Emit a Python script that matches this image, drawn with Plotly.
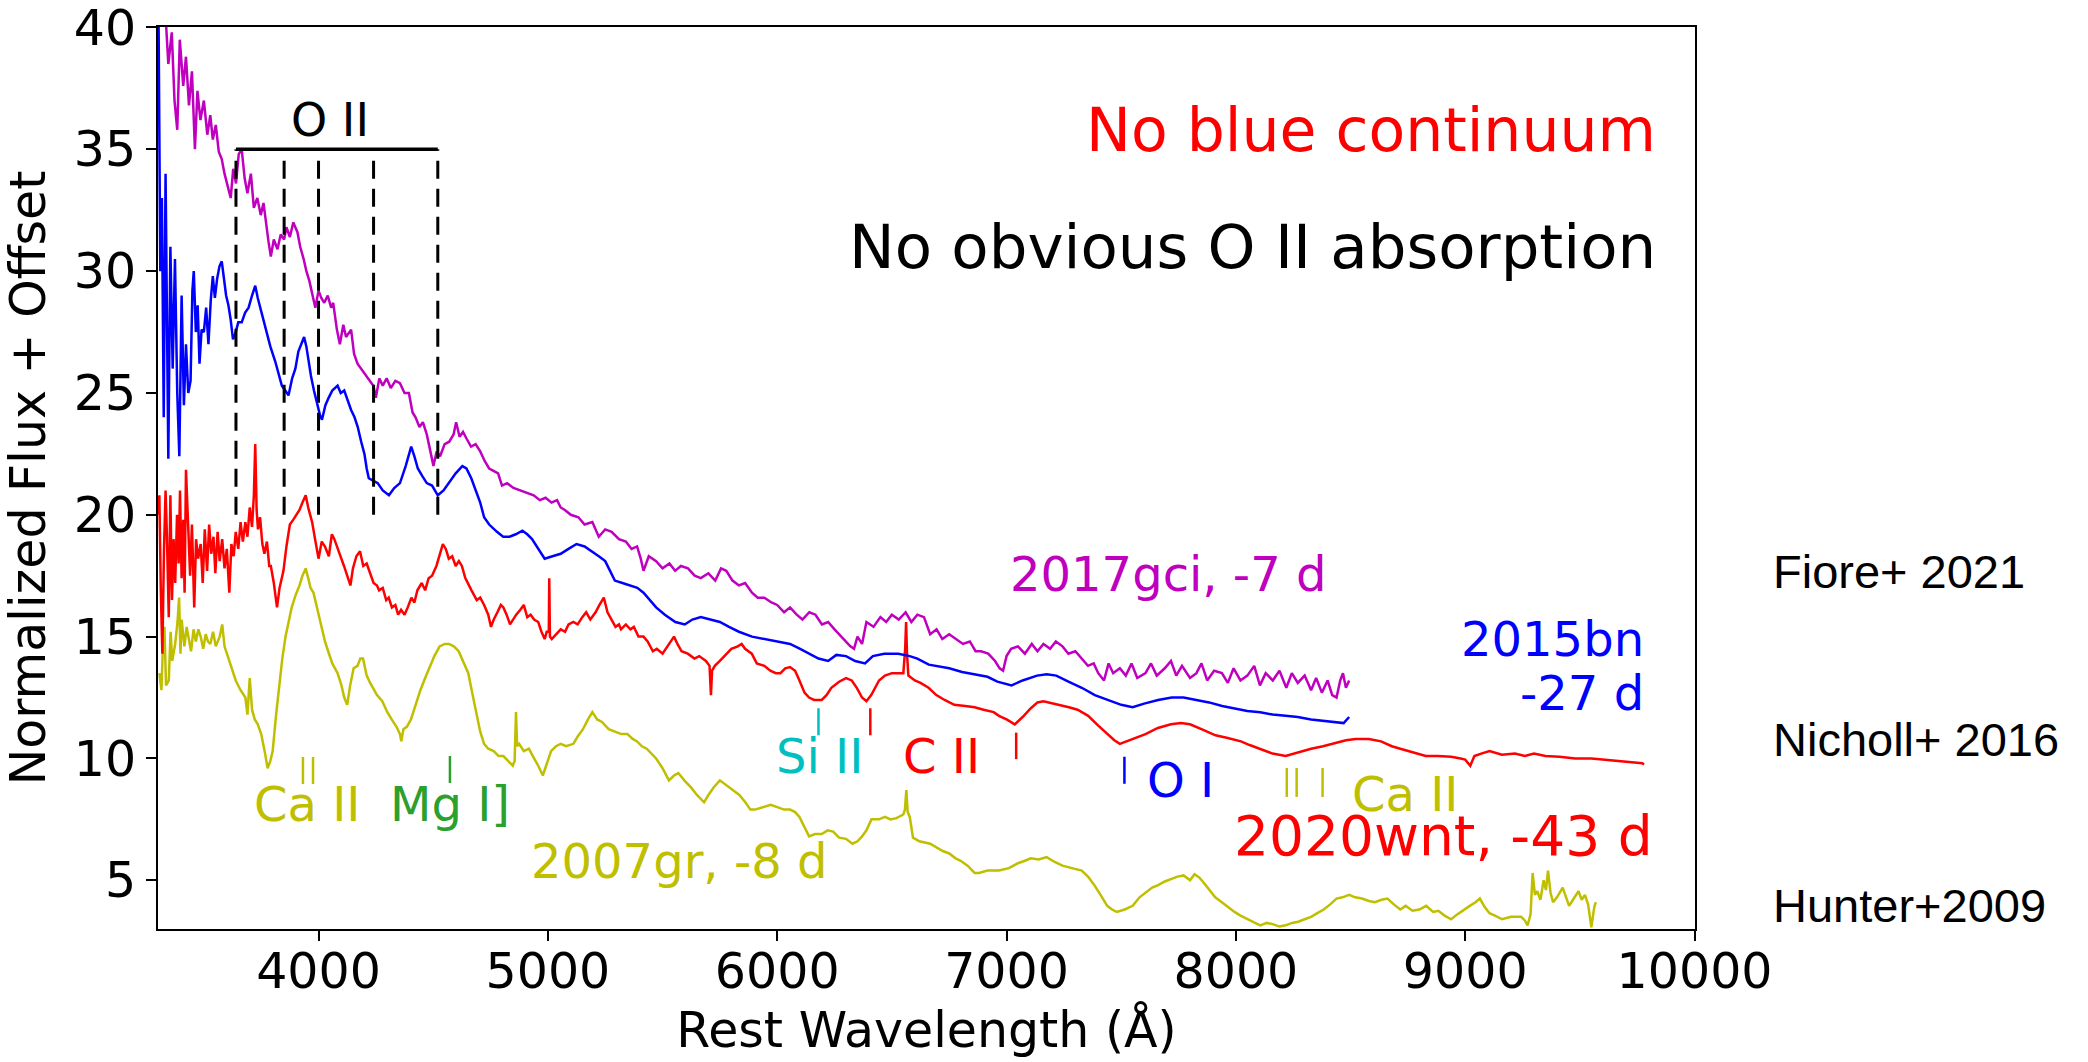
import plotly.graph_objects as go

# ---------------- data ----------------
gci_wave = [3330, 3345, 3360, 3372, 3384, 3395, 3410, 3422, 3435, 3448, 3461, 3472, 3485, 3500, 3515, 3528, 3539, 3552, 3565, 3578, 3590, 3605, 3617, 3628, 3640, 3652, 3665, 3678, 3690, 3705, 3718, 3733, 3748, 3760, 3772, 3782, 3792, 3805, 3821, 3835, 3850, 3860, 3875, 3890, 3908, 3920, 3935, 3947, 3960, 3975, 3986, 4000, 4012, 4025, 4040, 4055, 4064, 4080, 4093, 4108, 4120, 4142, 4155, 4170, 4185, 4200, 4220, 4239, 4250, 4265, 4280, 4297, 4315, 4335, 4355, 4375, 4394, 4410, 4423, 4440, 4455, 4472, 4490, 4501, 4515, 4530, 4550, 4570, 4589, 4600, 4615, 4630, 4647, 4665, 4685, 4705, 4725, 4744, 4763, 4783, 4800, 4822, 4850, 4880, 4910, 4938, 4965, 4990, 5016, 5040, 5056, 5074, 5100, 5133, 5160, 5194, 5222, 5250, 5278, 5310, 5340, 5365, 5389, 5405, 5417, 5440, 5472, 5500, 5530, 5555, 5580, 5611, 5640, 5667, 5700, 5730, 5755, 5778, 5805, 5833, 5860, 5890, 5915, 5944, 5975, 6000, 6030, 6056, 6085, 6110, 6140, 6167, 6195, 6222, 6250, 6278, 6300, 6319, 6335, 6350, 6370, 6389, 6420, 6450, 6475, 6500, 6530, 6560, 6585, 6611, 6640, 6667, 6695, 6720, 6750, 6778, 6810, 6840, 6865, 6889, 6920, 6950, 6970, 6985, 7000, 7020, 7050, 7080, 7110, 7135, 7161, 7190, 7215, 7244, 7270, 7300, 7328, 7355, 7380, 7400, 7425, 7445, 7465, 7494, 7520, 7545, 7570, 7606, 7630, 7655, 7690, 7717, 7740, 7765, 7800, 7828, 7850, 7875, 7905, 7939, 7965, 7990, 8020, 8050, 8080, 8105, 8130, 8161, 8190, 8220, 8244, 8270, 8300, 8328, 8350, 8375, 8400, 8420, 8439, 8455, 8467, 8480, 8494]
gci_flux = [41.0, 38.5, 39.8, 37.0, 35.8, 39.5, 37.6, 38.8, 36.8, 38.2, 35.0, 37.4, 36.2, 37.0, 35.6, 36.4, 35.4, 36.0, 34.9, 34.6, 34.0, 33.4, 33.0, 34.2, 33.6, 34.8, 35.0, 33.8, 33.2, 34.0, 32.6, 33.0, 32.3, 32.8, 31.8, 31.2, 30.6, 31.3, 30.9, 31.5, 31.3, 31.8, 31.4, 32.0, 31.6, 31.0, 30.5, 30.0, 29.6, 29.0, 28.5, 29.2, 28.9, 28.7, 29.0, 28.5, 28.7, 27.6, 27.0, 27.8, 27.3, 27.6, 26.6, 26.2, 26.0, 25.8, 25.5, 25.3, 24.8, 25.6, 25.3, 25.6, 25.2, 25.5, 25.4, 25.0, 25.0, 24.2, 24.0, 23.6, 23.8, 23.3, 22.5, 22.0, 22.6, 22.4, 22.9, 23.0, 23.3, 23.8, 23.2, 23.4, 23.1, 22.8, 22.9, 22.6, 22.2, 21.9, 21.8, 21.7, 21.2, 21.3, 21.1, 21.0, 20.9, 20.8, 20.6, 20.7, 20.5, 20.6, 20.3, 20.2, 20.0, 19.9, 19.6, 19.7, 19.1, 19.4, 19.3, 19.0, 18.9, 18.6, 18.7, 18.2, 17.7, 18.3, 18.1, 17.8, 18.0, 17.7, 17.9, 17.8, 17.5, 17.4, 17.6, 17.3, 17.8, 17.7, 17.3, 17.1, 17.2, 16.8, 16.6, 16.6, 16.4, 16.3, 16.0, 16.2, 15.9, 15.7, 16.0, 15.9, 15.5, 15.6, 15.3, 15.0, 14.8, 14.6, 14.5, 15.0, 14.7, 15.6, 15.4, 15.8, 15.6, 15.9, 15.7, 16.0, 15.6, 15.9, 15.8, 15.1, 15.3, 14.9, 15.1, 14.9, 14.7, 14.8, 14.4, 14.4, 14.3, 14.0, 13.7, 13.6, 14.2, 14.5, 14.6, 14.3, 14.7, 14.4, 14.7, 14.5, 14.8, 14.6, 14.3, 14.4, 14.1, 13.8, 13.9, 13.5, 13.2, 13.9, 13.5, 13.7, 13.4, 13.9, 13.3, 13.5, 13.9, 13.4, 13.7, 14.0, 13.4, 13.8, 13.3, 13.5, 13.9, 13.2, 13.6, 13.5, 13.1, 13.7, 13.2, 13.4, 13.8, 13.0, 13.5, 13.2, 13.6, 12.9, 13.5, 13.1, 13.4, 12.8, 13.3, 12.7, 13.2, 12.6, 12.5, 13.2, 13.5, 12.9, 13.2]

bn_wave = [3302, 3306, 3310, 3317, 3325, 3333, 3341, 3345, 3354, 3364, 3374, 3384, 3393, 3403, 3413, 3422, 3432, 3442, 3450, 3456, 3465, 3473, 3481, 3490, 3500, 3510, 3520, 3530, 3539, 3548, 3558, 3568, 3578, 3588, 3597, 3607, 3617, 3627, 3636, 3650, 3665, 3680, 3695, 3710, 3724, 3735, 3743, 3758, 3772, 3790, 3811, 3825, 3840, 3855, 3869, 3885, 3899, 3912, 3928, 3937, 3947, 3957, 3967, 3980, 3996, 4006, 4015, 4030, 4044, 4060, 4083, 4097, 4112, 4127, 4142, 4157, 4171, 4186, 4200, 4210, 4219, 4238, 4258, 4280, 4307, 4330, 4355, 4380, 4404, 4418, 4433, 4452, 4472, 4495, 4520, 4545, 4569, 4598, 4627, 4645, 4666, 4685, 4705, 4722, 4744, 4778, 4805, 4833, 4860, 4889, 4910, 4931, 4960, 4986, 5020, 5056, 5090, 5125, 5160, 5194, 5222, 5250, 5270, 5292, 5325, 5361, 5390, 5417, 5445, 5472, 5510, 5556, 5597, 5630, 5667, 5710, 5750, 5790, 5833, 5890, 5944, 6000, 6056, 6100, 6139, 6180, 6222, 6258, 6300, 6340, 6383, 6417, 6467, 6528, 6578, 6611, 6661, 6694, 6750, 6806, 6860, 6917, 6960, 7022, 7070, 7133, 7175, 7217, 7270, 7328, 7385, 7439, 7500, 7550, 7600, 7661, 7720, 7772, 7830, 7883, 7940, 7994, 8050, 8106, 8160, 8217, 8270, 8328, 8380, 8439, 8470, 8494]
bn_flux = [41.0, 36.0, 30.0, 33.0, 24.0, 34.0, 27.0, 22.3, 31.0, 26.0, 30.5, 25.0, 22.4, 29.0, 24.5, 27.0, 25.0, 25.5, 29.2, 30.0, 27.5, 28.6, 26.2, 27.6, 27.5, 28.5, 27.0, 28.8, 29.8, 28.9, 29.7, 30.2, 30.4, 29.6, 29.0, 28.6, 28.0, 27.2, 27.4, 27.9, 27.9, 28.3, 28.5, 29.0, 29.4, 28.9, 28.6, 28.0, 27.6, 26.9, 26.3, 25.8, 25.3, 25.1, 24.9, 25.6, 26.0, 26.7, 27.1, 27.3, 26.9, 26.2, 25.7, 25.1, 24.5, 24.1, 23.9, 24.5, 24.8, 25.1, 25.3, 25.0, 25.1, 24.7, 24.3, 24.0, 23.6, 23.0, 22.5, 21.9, 21.5, 21.4, 21.3, 21.0, 20.8, 21.1, 21.3, 22.0, 22.8, 22.4, 21.9, 21.6, 21.3, 21.2, 20.8, 21.0, 21.3, 21.7, 22.0, 21.9, 21.5, 21.0, 20.5, 19.9, 19.6, 19.3, 19.1, 19.1, 19.2, 19.35, 19.2, 19.0, 18.6, 18.2, 18.3, 18.4, 18.6, 18.8, 18.7, 18.5, 18.3, 18.1, 17.7, 17.3, 17.2, 17.1, 17.0, 16.8, 16.5, 16.2, 15.9, 15.6, 15.5, 15.7, 15.8, 15.7, 15.6, 15.4, 15.2, 15.0, 14.9, 14.8, 14.7, 14.5, 14.3, 14.1, 14.0, 14.25, 14.2, 14.0, 13.9, 14.2, 14.3, 14.3, 14.2, 14.1, 13.85, 13.8, 13.7, 13.55, 13.45, 13.35, 13.15, 13.0, 13.2, 13.4, 13.45, 13.4, 13.15, 12.9, 12.6, 12.4, 12.2, 12.1, 12.25, 12.4, 12.5, 12.5, 12.4, 12.3, 12.15, 12.05, 11.95, 11.9, 11.8, 11.75, 11.7, 11.6, 11.55, 11.5, 11.45, 11.7]

wnt_wave = [3300, 3306, 3312, 3319, 3326, 3333, 3339, 3347, 3354, 3361, 3368, 3375, 3383, 3390, 3396, 3403, 3410, 3416, 3422, 3431, 3440, 3448, 3458, 3466, 3475, 3486, 3495, 3504, 3514, 3523, 3532, 3542, 3550, 3560, 3569, 3580, 3590, 3600, 3611, 3620, 3630, 3639, 3650, 3660, 3670, 3681, 3690, 3700, 3710, 3718, 3724, 3730, 3736, 3745, 3755, 3764, 3775, 3785, 3792, 3805, 3812, 3819, 3830, 3840, 3847, 3860, 3875, 3890, 3905, 3917, 3930, 3944, 3955, 3965, 3972, 3985, 4000, 4014, 4028, 4045, 4058, 4069, 4085, 4098, 4111, 4125, 4139, 4150, 4165, 4181, 4195, 4210, 4222, 4240, 4255, 4264, 4280, 4295, 4306, 4320, 4335, 4347, 4360, 4375, 4389, 4405, 4418, 4431, 4450, 4465, 4480, 4495, 4514, 4530, 4542, 4555, 4568, 4583, 4598, 4612, 4625, 4640, 4655, 4667, 4690, 4705, 4722, 4740, 4752, 4764, 4780, 4795, 4806, 4820, 4835, 4847, 4862, 4880, 4895, 4910, 4925, 4940, 4958, 4972, 4986, 4995, 5004, 5006, 5009, 5017, 5035, 5056, 5075, 5090, 5111, 5130, 5150, 5167, 5185, 5208, 5225, 5244, 5260, 5278, 5295, 5310, 5319, 5340, 5360, 5375, 5395, 5417, 5435, 5458, 5475, 5500, 5520, 5540, 5550, 5565, 5583, 5610, 5639, 5660, 5689, 5705, 5711, 5716, 5728, 5750, 5778, 5800, 5828, 5845, 5860, 5889, 5911, 5944, 5970, 5994, 6014, 6035, 6056, 6078, 6097, 6119, 6139, 6161, 6194, 6215, 6236, 6270, 6300, 6325, 6347, 6370, 6389, 6410, 6444, 6470, 6500, 6530, 6550, 6558, 6562, 6566, 6572, 6600, 6625, 6660, 6694, 6730, 6772, 6820, 6861, 6900, 6944, 6967, 7000, 7036, 7070, 7106, 7135, 7161, 7210, 7272, 7310, 7356, 7400, 7439, 7470, 7494, 7550, 7606, 7660, 7717, 7760, 7800, 7850, 7911, 7960, 8022, 8060, 8106, 8160, 8217, 8270, 8328, 8380, 8439, 8480, 8522, 8580, 8633, 8680, 8717, 8770, 8828, 8880, 8939, 8980, 9000, 9022, 9040, 9070, 9106, 9160, 9217, 9260, 9300, 9350, 9411, 9480, 9550, 9610, 9661, 9720, 9772, 9780]
wnt_flux = [20.0, 20.8, 17.0, 14.3, 18.5, 21.0, 19.1, 15.8, 20.8, 16.5, 19.0, 17.2, 20.0, 18.0, 21.0, 17.4, 19.8, 16.8, 21.85, 19.4, 17.5, 19.6, 16.2, 19.0, 18.2, 18.8, 17.2, 19.4, 17.7, 19.6, 18.4, 19.1, 17.6, 19.3, 18.1, 19.0, 17.8, 18.6, 16.8, 18.8, 18.3, 19.3, 18.6, 19.7, 18.9, 19.7, 19.1, 20.3, 19.5, 20.8, 22.9, 20.2, 19.4, 19.9, 18.8, 18.4, 18.9, 17.9, 17.9, 17.2, 16.6, 16.2, 17.0, 17.4, 17.7, 18.7, 19.6, 19.8, 20.0, 20.2, 20.5, 20.8, 20.3, 19.9, 19.7, 19.0, 18.2, 18.9, 18.7, 18.3, 19.2, 19.0, 18.6, 18.2, 17.9, 17.5, 17.1, 17.8, 18.3, 18.5, 17.9, 18.0, 17.7, 17.2, 17.1, 16.9, 17.0, 16.5, 16.6, 16.2, 16.3, 15.9, 16.1, 15.9, 16.2, 16.6, 16.4, 16.9, 17.2, 16.9, 17.4, 17.5, 17.9, 18.4, 18.8, 18.6, 18.2, 18.3, 17.9, 18.1, 17.9, 17.4, 17.1, 16.9, 16.5, 16.6, 16.3, 15.9, 15.4, 15.7, 16.0, 16.3, 16.2, 15.9, 15.5, 15.7, 15.9, 16.1, 16.3, 15.8, 15.9, 15.7, 15.6, 15.2, 14.9, 15.2, 15.2, 17.4, 15.0, 14.9, 15.1, 15.3, 15.2, 15.5, 15.6, 15.5, 15.8, 16.0, 15.7, 16.0, 16.3, 16.6, 16.0, 15.7, 15.4, 15.5, 15.3, 15.5, 15.3, 15.4, 15.0, 15.0, 14.8, 14.4, 14.5, 14.3, 14.6, 14.9, 15.0, 14.7, 14.4, 14.3, 14.1, 14.2, 14.0, 13.8, 12.6, 13.6, 13.8, 14.0, 14.3, 14.5, 14.6, 14.7, 14.5, 14.3, 13.9, 13.8, 13.6, 13.5, 13.5, 13.7, 13.75, 13.6, 13.2, 12.7, 12.5, 12.4, 12.4, 12.6, 12.9, 13.15, 13.3, 13.2, 12.9, 12.5, 12.35, 12.6, 13.2, 13.4, 13.5, 13.5, 13.5, 14.5, 15.6, 14.3, 13.4, 13.2, 13.1, 12.9, 12.6, 12.4, 12.2, 12.15, 12.1, 12.0, 11.9, 11.75, 11.6, 11.4, 11.7, 12.06, 12.3, 12.35, 12.25, 12.1, 12.0, 11.75, 11.35, 11.0, 10.75, 10.6, 10.8, 11.0, 11.25, 11.4, 11.45, 11.4, 11.2, 10.95, 10.85, 10.7, 10.55, 10.4, 10.2, 10.1, 10.25, 10.4, 10.5, 10.65, 10.75, 10.8, 10.8, 10.7, 10.5, 10.4, 10.25, 10.1, 10.1, 10.07, 10.0, 9.95, 9.7, 10.1, 10.2, 10.3, 10.15, 10.2, 10.1, 10.2, 10.1, 10.07, 10.0, 10.0, 9.95, 9.9, 9.85, 9.8, 9.75]

gr_wave = [3306, 3315, 3322, 3328, 3335, 3347, 3355, 3362, 3375, 3385, 3392, 3398, 3403, 3415, 3425, 3435, 3444, 3455, 3465, 3476, 3486, 3497, 3508, 3518, 3528, 3540, 3552, 3569, 3580, 3590, 3597, 3610, 3625, 3639, 3660, 3681, 3690, 3700, 3710, 3722, 3735, 3750, 3765, 3778, 3790, 3800, 3815, 3828, 3842, 3856, 3870, 3883, 3900, 3917, 3930, 3944, 3955, 3965, 3978, 3995, 4014, 4028, 4042, 4060, 4083, 4100, 4112, 4125, 4138, 4153, 4170, 4182, 4194, 4210, 4225, 4236, 4255, 4278, 4300, 4319, 4340, 4355, 4361, 4370, 4385, 4403, 4420, 4444, 4465, 4486, 4505, 4528, 4550, 4569, 4590, 4611, 4630, 4653, 4670, 4689, 4705, 4722, 4740, 4764, 4785, 4806, 4825, 4847, 4855, 4861, 4866, 4875, 4895, 4917, 4940, 4958, 4978, 4995, 5014, 5035, 5056, 5080, 5111, 5130, 5153, 5175, 5194, 5215, 5236, 5265, 5292, 5320, 5347, 5370, 5389, 5410, 5431, 5450, 5472, 5500, 5528, 5550, 5569, 5595, 5625, 5650, 5681, 5700, 5722, 5750, 5780, 5806, 5835, 5861, 5883, 5903, 5940, 5972, 6000, 6030, 6056, 6078, 6097, 6118, 6139, 6165, 6194, 6220, 6244, 6270, 6300, 6328, 6350, 6370, 6389, 6411, 6444, 6470, 6494, 6520, 6550, 6557, 6563, 6569, 6578, 6592, 6620, 6667, 6700, 6722, 6750, 6778, 6800, 6830, 6861, 6880, 6917, 6967, 7010, 7050, 7080, 7106, 7140, 7175, 7210, 7244, 7285, 7328, 7355, 7383, 7410, 7439, 7460, 7481, 7515, 7550, 7580, 7606, 7635, 7661, 7690, 7717, 7745, 7772, 7800, 7820, 7842, 7860, 7883, 7910, 7939, 7965, 7994, 8020, 8050, 8080, 8106, 8135, 8161, 8190, 8217, 8245, 8272, 8300, 8328, 8355, 8383, 8410, 8439, 8465, 8494, 8520, 8550, 8580, 8606, 8635, 8661, 8690, 8717, 8740, 8770, 8800, 8830, 8860, 8883, 8910, 8939, 8965, 8994, 9020, 9045, 9064, 9085, 9106, 9130, 9161, 9200, 9244, 9260, 9272, 9285, 9294, 9304, 9314, 9328, 9342, 9352, 9361, 9372, 9383, 9400, 9425, 9440, 9453, 9470, 9494, 9508, 9522, 9536, 9550, 9558, 9564, 9570]
gr_flux = [13.5, 12.8, 14.8, 15.4, 13.0, 13.2, 15.2, 14.0, 14.7, 15.6, 16.6, 14.3, 15.7, 14.6, 15.4, 14.9, 14.4, 15.3, 14.8, 15.3, 15.0, 14.5, 15.1, 14.8, 14.7, 15.2, 14.6, 15.0, 15.5, 14.6, 14.4, 14.0, 13.6, 13.2, 12.8, 12.5, 11.8, 13.3, 12.0, 11.6, 11.4, 11.0, 10.3, 9.6, 9.9, 10.3, 11.8, 13.0, 14.1, 15.0, 15.7, 16.2, 16.7, 17.1, 17.5, 17.8, 17.4, 17.0, 16.8, 16.1, 15.4, 14.8, 14.4, 13.9, 13.5, 13.0, 12.5, 12.2, 13.0, 13.7, 13.8, 14.1, 14.1, 13.4, 13.1, 12.9, 12.6, 12.35, 11.9, 11.6, 11.3, 11.0, 10.7, 11.2, 11.3, 11.6, 12.1, 12.8, 13.3, 13.8, 14.2, 14.6, 14.7, 14.7, 14.6, 14.4, 14.0, 13.5, 12.7, 11.8, 11.1, 10.6, 10.4, 10.3, 10.1, 10.1, 9.9, 9.7, 9.9, 11.9, 10.5, 10.6, 10.3, 10.4, 10.0, 9.7, 9.3, 9.8, 10.3, 10.5, 10.6, 10.5, 10.6, 10.9, 11.2, 11.6, 11.9, 11.6, 11.5, 11.2, 11.1, 11.0, 11.0, 10.8, 10.7, 10.5, 10.4, 10.2, 10.0, 9.6, 9.1, 9.3, 9.4, 9.1, 8.8, 8.5, 8.2, 8.5, 8.8, 9.1, 8.9, 8.7, 8.5, 8.2, 7.9, 7.9, 8.0, 8.1, 8.0, 7.9, 7.9, 7.8, 7.6, 7.2, 6.8, 6.9, 6.9, 7.05, 7.0, 6.75, 6.7, 6.5, 6.6, 6.8, 7.05, 7.5, 7.5, 7.6, 7.5, 7.55, 7.7, 7.9, 8.7, 7.8, 7.6, 6.75, 6.6, 6.5, 6.3, 6.2, 6.1, 5.9, 5.8, 5.6, 5.3, 5.3, 5.4, 5.4, 5.5, 5.7, 5.8, 5.9, 5.85, 5.95, 5.75, 5.6, 5.5, 5.4, 5.15, 4.8, 4.4, 3.95, 3.8, 3.7, 3.8, 3.95, 4.3, 4.5, 4.7, 4.8, 4.95, 5.05, 5.15, 5.2, 5.0, 5.25, 5.1, 4.9, 4.6, 4.3, 4.1, 3.9, 3.7, 3.55, 3.4, 3.25, 3.15, 3.25, 3.2, 3.1, 3.15, 3.25, 3.3, 3.4, 3.5, 3.65, 3.8, 4.0, 4.25, 4.3, 4.4, 4.3, 4.25, 4.15, 4.1, 4.2, 4.25, 4.0, 3.8, 3.95, 3.75, 3.8, 3.95, 3.7, 3.75, 3.55, 3.4, 3.6, 3.8, 3.95, 4.1, 4.25, 3.9, 3.65, 3.55, 3.4, 3.5, 3.5, 3.35, 3.15, 3.6, 5.3, 4.4, 4.55, 4.2, 5.0, 4.6, 5.4, 4.5, 4.1, 4.3, 4.7, 4.3, 3.95, 4.2, 4.55, 4.2, 4.4, 4.0, 3.07, 3.6, 3.95, 4.1]

# axis ticks
x_ticks = [4000, 5000, 6000, 7000, 8000, 9000, 10000]
y_ticks = [5, 10, 15, 20, 25, 30, 35, 40]

# O II absorption guide (wavelengths and flux extent)
oii_waves = [3640, 3850, 4000, 4240, 4520]
oii_low, oii_top = 20.0, 35.0

# line-identification ticks: (wavelength, lower flux, upper flux)
si_ii_marks = [(6180, 10.95, 12.06)]
c_ii_marks = [(6406, 10.95, 12.06), (7042, 9.97, 11.06)]
o_i_marks = [(7514, 8.96, 10.07)]
ca_nir_marks = [(8222, 8.42, 9.61), (8265, 8.42, 9.61), (8378, 8.42, 9.61)]
ca_hk_marks = [(3932, 8.95, 10.06), (3976, 8.95, 10.06)]
mg_i_marks = [(4573, 8.99, 10.1)]

# ---------------- figure ----------------
MAG, BLU, RED, YEL = "#bf00bf", "#0000ff", "#ff0000", "#bfbf00"
CYA, GRN = "#00bfbf", "#2ca02c"
FONT = "DejaVu Sans"

fig = go.Figure()
for w, f, c in [(gr_wave, gr_flux, YEL), (wnt_wave, wnt_flux, RED),
                (bn_wave, bn_flux, BLU), (gci_wave, gci_flux, MAG)]:
    fig.add_trace(go.Scatter(x=w, y=f, mode="lines", line=dict(color=c, width=2.5),
                             showlegend=False, hoverinfo="skip"))

# O II dashed lines and bar
dx, dy = [], []
for w in oii_waves:
    dx += [w, w, None]
    dy += [oii_low, oii_top, None]
fig.add_trace(go.Scatter(x=dx, y=dy, mode="lines",
                         line=dict(color="black", width=3, dash="18px,10px"),
                         showlegend=False, hoverinfo="skip"))
fig.add_trace(go.Scatter(x=[min(oii_waves), max(oii_waves)], y=[oii_top, oii_top],
                         mode="lines", line=dict(color="black", width=3.5),
                         showlegend=False, hoverinfo="skip"))

def add_marks(marks, color):
    mx, my = [], []
    for w, lo, hi in marks:
        mx += [w, w, None]
        my += [lo, hi, None]
    fig.add_trace(go.Scatter(x=mx, y=my, mode="lines", line=dict(color=color, width=2.5),
                             showlegend=False, hoverinfo="skip"))

add_marks(si_ii_marks, CYA)
add_marks(c_ii_marks, RED)
add_marks(o_i_marks, BLU)
add_marks(ca_nir_marks, YEL)
add_marks(ca_hk_marks, YEL)
add_marks(mg_i_marks, GRN)

def txt(x, y, s, color, size, xanchor="center", xref="x", yref="y", family=FONT):
    fig.add_annotation(x=x, y=y, xref=xref, yref=yref, text=s, showarrow=False,
                       xanchor=xanchor, yanchor="middle",
                       font=dict(family=family, size=size, color=color))

txt(9839, 35.8, "No blue continuum", RED, 60, xanchor="right")
txt(9839, 31.0, "No obvious O II absorption", "black", 61, xanchor="right")
txt(4049, 36.2, "O II", "black", 46)
txt(7706, 17.55, "2017gci, -7 d", MAG, 48)
txt(9787, 14.9, "2015bn", BLU, 48, xanchor="right")
txt(9787, 12.7, "-27 d", BLU, 48, xanchor="right")
txt(8906, 6.8, "2020wnt, -43 d", RED, 55)
txt(5572, 5.8, "2007gr, -8 d", YEL, 48)
txt(6183, 10.1, "Si II", CYA, 48)
txt(6717, 10.1, "C II", RED, 48)
txt(7758, 9.12, "O I", BLU, 48)
txt(8740, 8.55, "Ca II", YEL, 48)
txt(3954, 8.12, "Ca II", YEL, 48)
txt(4573, 8.12, "Mg I]", GRN, 48)

ref_font = "Liberation Sans"
txt(1.0494, 0.396, "Fiore+ 2021", "black", 47, xanchor="left", xref="paper", yref="paper", family=ref_font)
txt(1.0494, 0.2106, "Nicholl+ 2016", "black", 47, xanchor="left", xref="paper", yref="paper", family=ref_font)
txt(1.0494, 0.0266, "Hunter+2009", "black", 47, xanchor="left", xref="paper", yref="paper", family=ref_font)

axis_common = dict(showline=True, linecolor="black", linewidth=2, mirror=True,
                   ticks="outside", ticklen=10, tickwidth=2, tickcolor="black",
                   showgrid=False, zeroline=False, ticklabeloverflow="allow", automargin=False,
                   tickfont=dict(family=FONT, size=49, color="black"))
fig.update_xaxes(range=[3300, 10002], tickvals=x_ticks, ticktext=[str(v) for v in x_ticks],
                 ticklabelstandoff=-12,
                 title=dict(text="Rest Wavelength (Å)", font=dict(family=FONT, size=49, color="black"),
                            standoff=12), **axis_common)
fig.update_yaxes(range=[3, 40.02], tickvals=y_ticks, ticktext=[str(v) for v in y_ticks],
                 title=dict(text="Normalized Flux + Offset", font=dict(family=FONT, size=49, color="black"),
                            standoff=14), **axis_common)

fig.update_layout(width=2088, height=1062, plot_bgcolor="white", paper_bgcolor="white",
                  margin=dict(l=158, r=393, t=27, b=133, pad=0), showlegend=False)

fig.write_html("out.html")
